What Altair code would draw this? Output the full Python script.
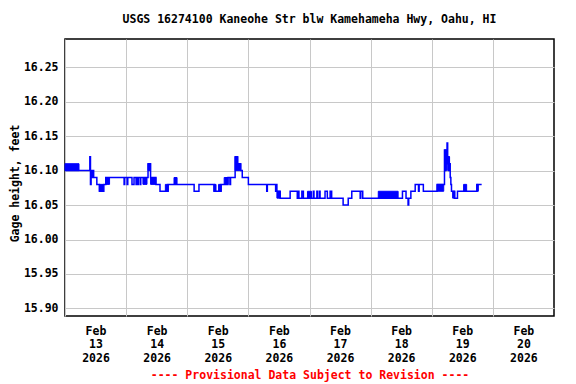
import altair as alt
import pandas as pd

TITLE = "USGS 16274100 Kaneohe Str blw Kamehameha Hwy, Oahu, HI"
Y_TITLE = "Gage height, feet"
FOOTER = "---- Provisional Data Subject to Revision ----"
START = "2026-02-13"
N_DAYS = 8
Y_TICKS = [15.90, 15.95, 16.00, 16.05, 16.10, 16.15, 16.20, 16.25]
Y_DOMAIN = [15.889, 16.291]

# step series: hours since Feb 13 00:00 and gage height (ft)
STEP_HOURS = [
    0.0, 9.75, 10.0, 10.25, 10.5, 10.75, 11.25, 12.5, 13.5, 15.25, 16.0,
    23.2, 23.45, 24.4, 24.65, 26.3, 27.1, 27.9, 28.15, 28.5, 28.75, 29.5, 29.75,
    32.6, 33.6, 35.7, 37.3, 40.5, 44.0, 50.7, 52.6, 58.5, 61.3, 64.0, 64.75, 65.0,
    66.8, 67.8, 69.0, 69.6, 72.0, 79.2, 79.45, 82.7, 82.95, 83.2, 84.5, 88.4,
    91.2, 91.6, 91.85, 93.0, 93.6, 97.5, 97.75, 98.9, 99.15, 99.9, 100.15,
    102.1, 103.0, 104.1, 104.7, 109.2, 111.2, 112.6, 115.9, 116.15, 116.9,
    132.5, 133.9, 134.7, 134.95, 135.8, 137.5, 138.8, 139.05, 140.7, 146.1,
    148.7, 149.0, 149.25, 149.5, 149.75, 150.0, 150.25, 150.5, 150.75, 151.0,
    151.25, 151.5, 151.75, 153.0, 154.1, 157.7, 161.7, 163.6,
]
STEP_VALUES = [
    16.10, 16.12, 16.08, 16.10, 16.09, 16.10, 16.09, 16.08, 16.07, 16.08, 16.09,
    16.08, 16.09, 16.08, 16.09, 16.08, 16.09, 16.08, 16.09, 16.08, 16.09, 16.08, 16.09,
    16.11, 16.09, 16.08, 16.07, 16.08, 16.08, 16.07, 16.08, 16.07, 16.08, 16.09, 16.08, 16.09,
    16.12, 16.11, 16.10, 16.09, 16.08, 16.07, 16.08, 16.07, 16.08, 16.07, 16.06, 16.07,
    16.06, 16.07, 16.06, 16.07, 16.06, 16.07, 16.06, 16.07, 16.06, 16.07, 16.06,
    16.07, 16.06, 16.07, 16.06, 16.05, 16.06, 16.07, 16.06, 16.07, 16.06,
    16.07, 16.06, 16.05, 16.06, 16.07, 16.08, 16.07, 16.08, 16.07, 16.08,
    16.08, 16.13, 16.10, 16.13, 16.11, 16.14, 16.11, 16.12, 16.10, 16.11,
    16.09, 16.08, 16.07, 16.06, 16.07, 16.07, 16.08, 16.08,
]

# rapid 15-minute flicker between two readings (draws as a solid block)
BAND_START_H = [0.0, 13.5, 16.0, 30.6, 32.6, 33.6, 39.4, 42.8, 58.5, 60.3, 62.5,
                66.8, 67.8, 83.2, 95.2, 123.0, 146.1, 149.0, 150.25, 152.2, 156.5, 161.7]
BAND_END_H = [5.5, 15.0, 17.5, 32.2, 33.6, 35.7, 40.5, 44.0, 59.3, 61.3, 64.0,
              67.8, 69.0, 84.5, 96.8, 130.8, 148.7, 149.75, 151.0, 153.0, 157.7, 162.3]
BAND_LO = [16.10, 16.07, 16.08, 16.08, 16.10, 16.08, 16.07, 16.08, 16.07, 16.07, 16.08,
           16.10, 16.10, 16.06, 16.06, 16.06, 16.07, 16.10, 16.10, 16.06, 16.07, 16.07]
BAND_HI = [16.11, 16.08, 16.09, 16.09, 16.11, 16.09, 16.08, 16.09, 16.08, 16.08, 16.09,
           16.12, 16.11, 16.07, 16.07, 16.07, 16.08, 16.13, 16.12, 16.07, 16.08, 16.08]

HOUR_MS = 3600 * 1000
base_ms = int(pd.Timestamp(START, tz="UTC").value // 10**6)

line_df = pd.DataFrame({
    "t": [base_ms + h * HOUR_MS for h in STEP_HOURS],
    "v": STEP_VALUES,
})
band_df = pd.DataFrame({
    "t": [base_ms + h * HOUR_MS for h in BAND_START_H],
    "t2": [base_ms + h * HOUR_MS for h in BAND_END_H],
    "lo": BAND_LO,
    "hi": BAND_HI,
})

FONT = "DejaVu Sans Mono"
FS = 11.5
BLUE = "#0000FF"

day_ticks = [base_ms + d * 24 * HOUR_MS for d in range(N_DAYS)]
x_scale = alt.Scale(type="utc", domain=[base_ms, base_ms + N_DAYS * 24 * HOUR_MS])
y_scale = alt.Scale(domain=Y_DOMAIN, nice=False, zero=False)

x_axis = alt.Axis(
    values=day_ticks,
    labelExpr="[utcFormat(datum.value, '%b'), utcFormat(datum.value, '%d'), utcFormat(datum.value, '%Y')]",
    labelOffset=30.5,
    labelAlign="center",
    labelBaseline="top",
    labelPadding=9,
    labelLineHeight=13.5,
    labelFont=FONT, labelFontSize=FS, labelFontWeight="bold", labelColor="black",
    labelOverlap=False, labelFlush=False,
    ticks=False, domain=False,
    grid=True, gridColor="#C8C8C8", gridWidth=1,
    title=FOOTER, titleColor="#FF0000", titleFont=FONT, titleFontSize=FS,
    titleFontWeight="bold", titlePadding=6,
)
y_axis = alt.Axis(
    values=Y_TICKS, format=".2f",
    labelFont=FONT, labelFontSize=FS, labelFontWeight="bold", labelColor="black",
    labelPadding=7,
    ticks=False, domain=False,
    grid=True, gridColor="#C8C8C8", gridWidth=1,
    title=Y_TITLE, titleFont=FONT, titleFontSize=FS, titleFontWeight="bold",
    titleColor="black", titlePadding=3, titleY=144,
)

bands = alt.Chart(band_df).mark_rect(color=BLUE, stroke=BLUE, strokeWidth=1).encode(
    x=alt.X("t:T", scale=x_scale, axis=x_axis),
    x2="t2:T",
    y=alt.Y("lo:Q", scale=y_scale, axis=y_axis),
    y2="hi:Q",
)
line = alt.Chart(line_df).mark_line(interpolate="step-after", color=BLUE, strokeWidth=1.5).encode(
    x=alt.X("t:T", scale=x_scale, axis=x_axis),
    y=alt.Y("v:Q", scale=y_scale, axis=y_axis),
)

chart = alt.layer(bands, line).properties(
    width=489,
    height=277,
    autosize=alt.AutoSizeParams(type="none"),
    padding={"left": 57, "top": 31, "right": 14, "bottom": 66},
    background="white",
    title=alt.TitleParams(
        text=TITLE, font=FONT, fontSize=FS, fontWeight="bold", color="black",
        anchor="middle", offset=14,
    ),
).configure_view(stroke="black", strokeWidth=1.5)

chart.save("out.html", embed_options={"renderer": "svg", "actions": False})
